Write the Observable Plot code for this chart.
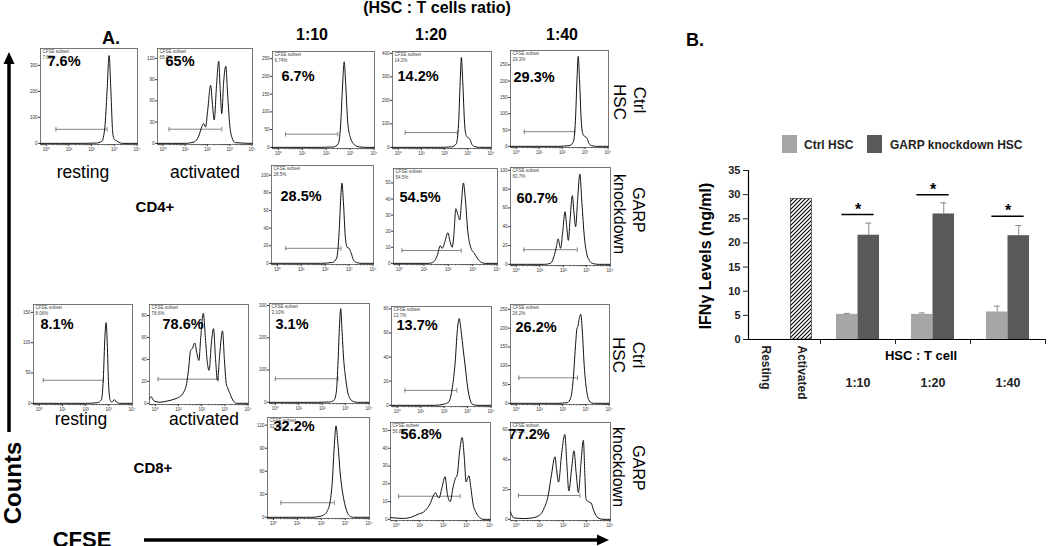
<!DOCTYPE html>
<html><head><meta charset="utf-8">
<script src="https://cdn.jsdelivr.net/npm/d3@7"></script>
<script src="https://cdn.jsdelivr.net/npm/@observablehq/plot@0.6"></script>
<style>
body{margin:0;background:#fff;}
#root{position:relative;width:1050px;height:546px;overflow:hidden;background:#fff;font-family:"Liberation Sans",Arial,sans-serif;}
#root svg{position:absolute;overflow:visible;}
</style></head><body><div id="root"></div>
<script>
// ---------- DATA ----------
// Histograms: [log10(CFSE), counts]
const cd4Resting = [[-0.25,0],[1.5,0],[2.2,1],[2.45,8],[2.58,60],[2.68,200],[2.77,338],[2.85,200],[2.93,40],[3.0,15],[3.1,10],[3.2,4],[3.35,0],[4,0]];
const cd4Activated = [[-0.25,0],[1.0,0],[1.4,2],[1.6,10],[1.75,24],[1.82,28],[1.91,23],[2.0,45],[2.14,82],[2.22,55],[2.3,33],[2.4,80],[2.5,116],[2.57,75],[2.64,42],[2.72,85],[2.82,109],[2.9,70],[3.0,25],[3.1,8],[3.25,1],[4,0]];
const cd4Ctrl10 = [[-0.25,0],[1.8,0],[2.3,1],[2.5,10],[2.6,60],[2.68,170],[2.75,241],[2.82,170],[2.9,70],[3.0,30],[3.1,14],[3.25,4],[3.4,1],[3.6,0],[4,0]];
const cd4Ctrl20 = [[-0.25,0],[1.8,0],[2.3,2],[2.5,15],[2.6,100],[2.67,280],[2.72,383],[2.78,280],[2.86,100],[2.93,50],[3.0,42],[3.08,35],[3.18,12],[3.3,3],[3.5,0],[4,0]];
const cd4Ctrl40 = [[-0.25,0],[1.8,0],[2.3,2],[2.48,12],[2.58,80],[2.65,210],[2.7,276],[2.76,200],[2.84,70],[2.92,35],[3.0,30],[3.08,25],[3.18,8],[3.3,2],[3.5,0],[4,0]];
const cd4Garp10 = [[-0.25,0],[1.8,0],[2.3,1],[2.48,6],[2.58,35],[2.65,75],[2.7,91],[2.76,70],[2.84,30],[2.92,18],[3.0,17],[3.08,12],[3.18,4],[3.3,1],[3.5,0],[4,0]];
const cd4Garp20 = [[-0.25,0],[1.2,0],[1.4,1],[1.55,5],[1.67,11],[1.75,9.3],[1.85,13],[1.98,19],[2.08,13],[2.16,10],[2.23,18],[2.31,34],[2.38,31],[2.47,27],[2.54,38],[2.62,50],[2.7,40],[2.8,20],[2.92,10],[3.08,6],[3.25,2],[3.5,0],[4,0]];
const cd4Garp40 = [[-0.25,0],[1.2,0],[1.45,1],[1.6,8],[1.72,20],[1.78,27],[1.89,17],[1.98,35],[2.08,56],[2.15,40],[2.22,25.5],[2.3,50],[2.39,73],[2.46,55],[2.53,40],[2.62,70],[2.71,96],[2.8,65],[2.9,30],[3.0,12],[3.12,4],[3.25,1],[3.5,0],[4,0]];
const cd8Resting = [[-0.25,0],[2.0,0],[2.5,1],[2.68,6],[2.76,40],[2.83,110],[2.88,133],[2.93,100],[2.99,30],[3.06,5],[3.13,2],[3.24,6],[3.33,2],[3.45,0],[4,0]];
const cd8Activated = [[-0.25,4],[-0.18,6],[-0.05,2],[0.2,1],[0.5,2],[0.85,4],[1.05,6],[1.22,10],[1.35,18],[1.44,32],[1.52,48],[1.6,50],[1.7,55],[1.8,45],[1.88,39],[1.96,60],[2.07,82],[2.16,60],[2.24,38],[2.32,30],[2.42,55],[2.51,68],[2.6,40],[2.68,21],[2.78,45],[2.9,66],[2.98,40],[3.06,18],[3.12,14],[3.2,10],[3.34,3],[3.5,0],[4,0]];
const cd8Ctrl10 = [[-0.25,0],[1.8,0],[2.3,1],[2.5,6],[2.6,30],[2.68,130],[2.74,240],[2.79,290],[2.84,230],[2.92,130],[3.0,75],[3.08,35],[3.2,10],[3.35,2],[3.5,0],[4,0]];
const cd8Ctrl20 = [[-0.25,0],[1.6,0],[2.0,1],[2.2,3],[2.35,15],[2.47,36],[2.56,62],[2.64,72],[2.72,62],[2.82,45],[2.9,32],[3.0,15],[3.1,5],[3.2,1],[3.4,0],[4,0]];
const cd8Ctrl40 = [[-0.25,0],[1.8,0],[2.2,2],[2.35,15],[2.45,60],[2.55,150],[2.62,200],[2.66,205],[2.7,220],[2.78,237],[2.85,190],[2.93,100],[3.02,40],[3.12,10],[3.25,1],[3.4,0],[4,0]];
const cd8Garp10 = [[-0.25,0],[1.6,0],[1.9,1],[2.1,3],[2.25,8],[2.38,22],[2.46,45],[2.54,90],[2.62,119],[2.7,95],[2.8,55],[2.88,35],[2.98,18],[3.08,7],[3.18,2],[3.35,0],[4,0]];
const cd8Garp20 = [[-0.25,1],[0.3,0.5],[0.7,1.5],[0.95,3],[1.15,4],[1.3,6],[1.45,9],[1.57,13],[1.67,15],[1.75,13],[1.82,12],[1.95,18],[2.08,24],[2.18,14],[2.3,10],[2.42,18],[2.52,23],[2.6,25],[2.7,38],[2.81,46],[2.9,35],[2.98,21],[3.04,23],[3.1,24.5],[3.18,18],[3.27,9],[3.4,4],[3.56,1],[3.7,0],[4,0]];
const cd8Garp40 = [[-0.25,5],[-0.2,3],[-0.1,1],[0.3,0.5],[0.7,1],[0.9,2],[1.07,4],[1.2,8],[1.36,16],[1.5,30],[1.65,42],[1.72,33],[1.8,25],[1.94,45],[2.07,57],[2.16,36],[2.24,19],[2.36,34],[2.46,46],[2.56,30],[2.65,18],[2.76,38],[2.86,53],[2.93,28],[2.97,14],[3.05,12],[3.19,11],[3.3,6],[3.49,1],[3.7,0],[4,0]];

const histSeries = [cd4Resting, cd4Activated, cd4Ctrl10, cd4Ctrl20, cd4Ctrl40, cd4Garp10, cd4Garp20, cd4Garp40,
                    cd8Resting, cd8Activated, cd8Ctrl10, cd8Ctrl20, cd8Ctrl40, cd8Garp10, cd8Garp20, cd8Garp40];
const pctLabels  = ["7.6%","65%","6.7%","14.2%","29.3%","28.5%","54.5%","60.7%","8.1%","78.6%","3.1%","13.7%","26.2%","32.2%","56.8%","77.2%"];
const smallLabels= ["7.62%","65.0%","6.74%","14.2%","29.3%","28.5%","54.5%","60.7%","8.06%","78.6%","3.10%","13.7%","26.2%","32.2%","56.8%","77.2%"];
// gate [from log10, to log10, count level]
const gates = [[0.43,2.68,54],[0.27,2.64,20],[0.3,2.48,37],[0.3,2.55,63],[0.35,2.55,45],[0.35,2.66,17],[0.1,2.53,8],[0.32,2.6,15.6],
               [0.17,2.76,38],[0.12,2.72,22],[0.0,2.67,73],[0.32,2.54,12.4],[0.11,2.64,68],[0.31,2.55,19],[0.1,2.72,13],[0.09,2.71,16]];
const yMax = [365,134,270,408,294,111,59,103,163,90,306,82,263,130,54.5,65];
const yTicks = [[0,100,200,300],[0,30,60,90,120],[0,50,100,150,200,250],[0,100,200,300,400],[0,50,100,150,200,250],
                [0,20,40,60,80,100],[0,10,20,30,40,50],[0,20,40,60,80,100],
                [0,50,100,150],[0,20,40,60,80],[0,100,200,300],[0,20,40,60,80],[0,50,100,150,200,250],
                [0,30,60,90,120],[0,10,20,30,40,50],[0,20,40,60]];
const decadeLabels = ["10⁰","10¹","10²","10³","10⁴"];

// Bar chart (IFN-gamma, ng/ml)
const barCategories = ["Resting","Activated","1:10","1:20","1:40"];
const ratios = ["1:10","1:20","1:40"];
const ctrlHSC = [5.2, 5.2, 5.7];
const ctrlSD  = [0.2, 0.3, 1.2];
const garpHSC = [21.6, 26.0, 21.5];
const garpSD  = [2.5, 2.3, 2.1];
const activatedIFN = 29.1;
const sigLevel = [25.9, 30.0, 25.5];
const seriesNames = ["Ctrl HSC","GARP knockdown HSC"];

// ---------- LAYOUT ----------
const FONT = '"Liberation Sans", Arial, sans-serif';
const frames = [[40,48,137,144],[157,48,252,144],[272,51,374,148],[392,51,491,148],[510,50,608,147],
                [271,165,373,264],[393,168,497,264],[510,167,610,265],
                [33,304,132,404],[149,304,248,404],[269,303,369,403],[391,306,491,406],[510,304,609,404],
                [267,417,369,518],[390,422,490,520],[510,422,610,520]];
const pctAt = [[47,61],[165,61],[281,76],[397,76],[513,77],[280,196],[399,197],[516,198],
               [40,324],[162,324],[275,324],[396,325],[515,327],[273,426],[400,434],[508,434]];

const root = document.getElementById("root");

// ---------- overlay: titles, labels, arrows ----------
const ov = d3.create("svg").attr("width",1050).attr("height",546).style("left","0px").style("top","0px")
  .style("font-family", FONT);
const notes = [
  {t:"(HSC :  T cells ratio)", x:437, y:7, s:16, b:1},
  {t:"A.", x:111, y:38, s:18, b:1},
  {t:"1:10", x:312, y:34, s:16, b:1},
  {t:"1:20", x:431, y:34, s:16, b:1},
  {t:"1:40", x:562, y:34, s:16, b:1},
  {t:"resting", x:83, y:172, s:17.5},
  {t:"activated", x:205, y:172, s:17.5},
  {t:"resting", x:81, y:419, s:17.5},
  {t:"activated", x:204, y:419, s:17.5},
  {t:"CD4+", x:155, y:206, s:15, b:1},
  {t:"CD8+", x:153, y:467, s:15, b:1},
  {t:"Ctrl", x:639, y:100, s:17, r:90},
  {t:"HSC", x:619, y:102, s:17, r:90},
  {t:"GARP", x:638, y:210, s:16, r:90},
  {t:"knockdown", x:619, y:214, s:16, r:90},
  {t:"Ctrl", x:638, y:355, s:17, r:90},
  {t:"HSC", x:618, y:355, s:17, r:90},
  {t:"GARP", x:638, y:468, s:16, r:90},
  {t:"knockdown", x:618, y:467, s:16, r:90},
  {t:"Counts", x:12, y:483, s:24, b:1, r:-90},
  {t:"CFSE", x:82, y:539, s:22, b:1},
  {t:"B.", x:695, y:40, s:18, b:1},
  {t:"IFNγ Levels (ng/ml)", x:705, y:256, s:16, b:1, r:-90},
  {t:"HSC : T cell", x:921, y:355, s:13, b:1},
];
ov.selectAll("text.n").data(notes).join("text")
  .attr("transform", d => `translate(${d.x},${d.y}) rotate(${d.r||0})`)
  .attr("text-anchor","middle").attr("dominant-baseline","central")
  .attr("font-size", d => d.s).attr("font-weight", d => d.b ? "bold" : "normal")
  .attr("fill","#000").text(d => d.t);
// arrows
ov.append("line").attr("x1",9).attr("y1",432).attr("x2",9).attr("y2",60).attr("stroke","#000").attr("stroke-width",3.5);
ov.append("path").attr("d","M9,52 L3.5,64 L14.5,64 Z").attr("fill","#000");
ov.append("line").attr("x1",144).attr("y1",540).attr("x2",600).attr("y2",540).attr("stroke","#000").attr("stroke-width",3.5);
ov.append("path").attr("d","M609,540 L597,534.5 L597,545.5 Z").attr("fill","#000");
// bar legend
const legendSw = [{x:782, fill:"#a6a6a6", tx:804},{x:867, fill:"#595959", tx:890}];
legendSw.forEach((l,i) => {
  ov.append("rect").attr("x",l.x).attr("y",135).attr("width",15).attr("height",18).attr("fill",l.fill);
  ov.append("text").attr("x",l.tx).attr("y",145).attr("dominant-baseline","central").attr("font-size",12)
    .attr("font-weight","bold").attr("fill","#222").text(seriesNames[i]);
});
root.appendChild(ov.node());

// ---------- histograms ----------
const VBAR = {draw(ctx, size){ const r = Math.sqrt(size/Math.PI); ctx.moveTo(0,-r); ctx.lineTo(0,r); }};
const minorTicks = [];
for (let d = -1; d < 4; d++) for (let k = 2; k < 10; k++) { const v = d + Math.log10(k); if (v > -0.25 && v < 4) minorTicks.push(v); }

histSeries.forEach((data, i) => {
  const [x0,y0,x1,y1] = frames[i];
  const w = x1-x0, h = y1-y0;
  const mL = 18, mR = 6, mT = 3, mB = 12;
  const yd = [-yMax[i]*0.012, yMax[i]];
  const g = gates[i];
  const svg = Plot.plot({
    width: w+mL+mR, height: h+mT+mB,
    marginLeft: mL, marginRight: mR, marginTop: mT, marginBottom: mB,
    style: {background:"transparent", overflow:"visible", fontFamily: FONT, fontSize:"5px", color:"#333"},
    x: {domain:[-0.25, 4.02], axis:null},
    y: {domain: yd, axis:null},
    marks: [
      Plot.axisY({ticks: yTicks[i], tickSize:2, tickPadding:1, fontSize:4.5, label:null}),
      Plot.axisX({ticks:[0,1,2,3,4], tickSize:2, tickPadding:1.5, fontSize:4.5, tickFormat: d => decadeLabels[d], label:null}),
      Plot.axisX({ticks: minorTicks, tickSize:1.2, tickFormat: () => "", label:null}),
      Plot.frame({stroke:"#555", strokeWidth:0.8}),
      Plot.ruleY([g], {y: d => d[2], x1: d => d[0], x2: d => d[1], stroke:"#666", strokeWidth:0.8}),
      Plot.dot([[g[0],g[2]],[g[1],g[2]]], {x: d => d[0], y: d => d[1], symbol: VBAR, r:2.3, fill:"none", stroke:"#666", strokeWidth:0.8}),
      Plot.line(data, {x: d => d[0], y: d => d[1], curve:"monotone-x", stroke:"#111", strokeWidth:1}),
      Plot.text(["CFSE subset"], {text: d => d, frameAnchor:"top-left", dx:2, dy:1.5, lineAnchor:"top", textAnchor:"start", fontSize:4.5, fill:"#444"}),
      Plot.text([smallLabels[i]], {text: d => d, frameAnchor:"top-left", dx:2, dy:7, lineAnchor:"top", textAnchor:"start", fontSize:4.5, fill:"#444"}),
      Plot.text([pctLabels[i]], {text: d => d, frameAnchor:"top-left", dx: pctAt[i][0]-x0, dy: pctAt[i][1]-y0,
        lineAnchor:"middle", textAnchor:"start", fontSize:14.5, fontWeight:"bold", fill:"#000"})
    ]
  });
  svg.style.left = (x0 - mL) + "px";
  svg.style.top = (y0 - mT) + "px";
  root.appendChild(svg);
});

// ---------- bar chart ----------
const groupSpan = [0.45, 0.51, 1, 1, 1];
const bounds = Array.from(d3.cumsum([0, ...groupSpan]));
const centers = groupSpan.map((s,i) => bounds[i] + s/2);
const cOf = name => centers[barCategories.indexOf(name)];
const halfBar = 0.287;
const barRows = [];
ratios.forEach((r,i) => {
  barRows.push({cat:r, series:seriesNames[0], x1:cOf(r)-halfBar, x2:cOf(r), v:ctrlHSC[i], sd:ctrlSD[i]});
  barRows.push({cat:r, series:seriesNames[1], x1:cOf(r), x2:cOf(r)+halfBar, v:garpHSC[i], sd:garpSD[i]});
});
const sigRows = ratios.map((r,i) => ({c:cOf(r), y:sigLevel[i]}));
const capW = 0.04;
const bL = 640, bT = 120, bW = 410, bH = 426;
const bar = Plot.plot({
  width:bW, height:bH, marginLeft:108, marginRight:5, marginTop:50, marginBottom:207,
  style:{background:"transparent", overflow:"visible", fontFamily: FONT, fontSize:"11px", color:"#222"},
  x:{domain:[0, bounds[bounds.length-1]], axis:null},
  y:{domain:[0,35], axis:null},
  color:{domain:seriesNames, range:["#a6a6a6","#595959"]},
  marks:[
    Plot.rectY(barRows, {x1:"x1", x2:"x2", y:"v", fill:"series"}),
    Plot.rectY([activatedIFN], {x1: () => cOf("Activated")-0.14, x2: () => cOf("Activated")+0.14, y: d => d, fill:"url(#hatch)", stroke:"#222", strokeWidth:0.6}),
    Plot.ruleX(barRows, {x: d => (d.x1+d.x2)/2, y1:"v", y2: d => d.v + d.sd, stroke:"#888", strokeWidth:1}),
    Plot.ruleY(barRows, {y: d => d.v + d.sd, x1: d => (d.x1+d.x2)/2 - capW, x2: d => (d.x1+d.x2)/2 + capW, stroke:"#888", strokeWidth:1}),
    Plot.ruleY(sigRows, {y:"y", x1: d => d.c-0.215, x2: d => d.c+0.215, stroke:"#000", strokeWidth:1.5}),
    Plot.text(sigRows, {x:"c", y:"y", text: () => "*", dy:-5, fontSize:16, fontWeight:"bold", fill:"#000"}),
    Plot.ruleY([0], {stroke:"#000", strokeWidth:1.2}),
    Plot.ruleX([0], {stroke:"#000", strokeWidth:1.2}),
    Plot.axisY({ticks: d3.range(0,36,5), tickSize:5, tickPadding:3, fontSize:11, fontWeight:"bold", label:null}),
    Plot.axisX({ticks: bounds.slice(2), tickSize:5, tickFormat: () => "", label:null}),
    Plot.text(["Resting","Activated"], {x: d => cOf(d), y: () => 0, text: d => d, rotate:90, dy:6, textAnchor:"start", lineAnchor:"middle", fontSize:12, fontWeight:"bold", fill:"#222"}),
    Plot.text(ratios, {x: d => cOf(d), y: () => 0, text: d => d, dy:43, fontSize:12.5, fontWeight:"bold", fill:"#222"})
  ]
});
const defs = d3.select(bar).insert("defs", ":first-child");
const pat = defs.append("pattern").attr("id","hatch").attr("patternUnits","userSpaceOnUse").attr("width",4).attr("height",4);
pat.append("rect").attr("width",4).attr("height",4).attr("fill","#fff");
pat.append("path").attr("d","M-1,1 l2,-2 M0,4 l4,-4 M3,5 l2,-2").attr("stroke","#000").attr("stroke-width",1.1);
bar.style.left = bL + "px";
bar.style.top = bT + "px";
root.appendChild(bar);
</script></body></html>
